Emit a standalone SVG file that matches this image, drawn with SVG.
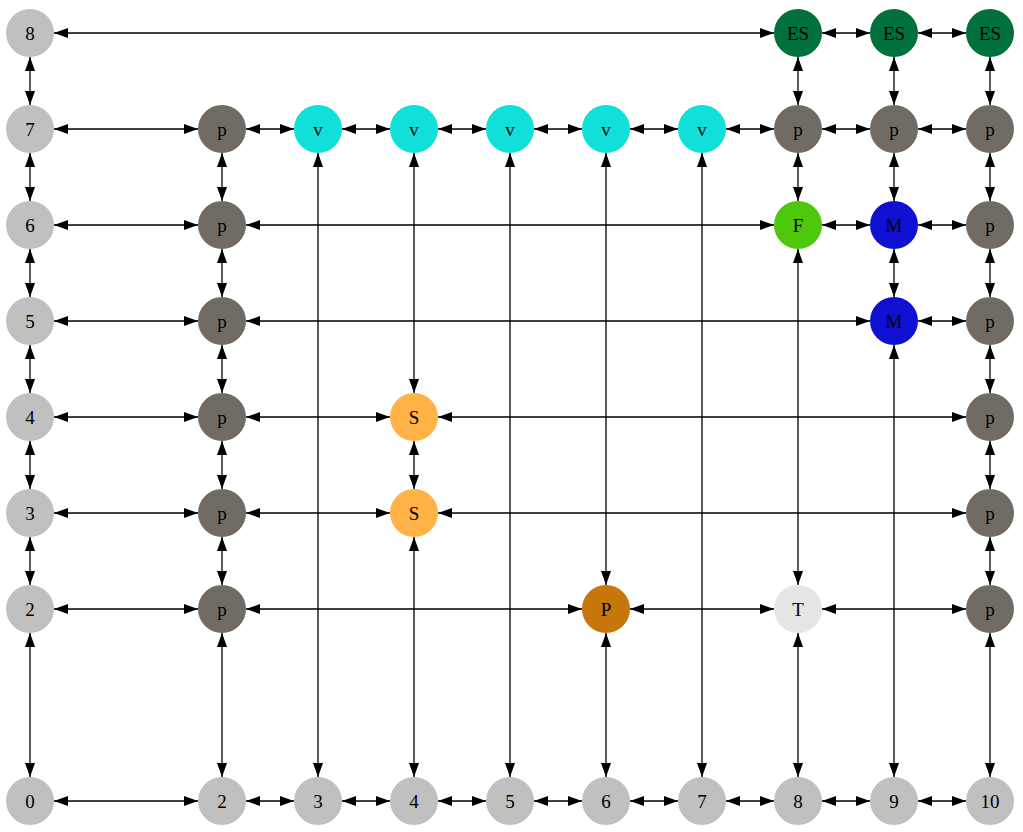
<svg xmlns="http://www.w3.org/2000/svg" width="1023" height="832" viewBox="0 0 1023 832">
<style>
.e{stroke:#000;stroke-width:1.3;fill:none;marker-start:url(#a);marker-end:url(#a)}
text{font-family:"Liberation Serif","Times New Roman",serif;font-size:19px;text-anchor:middle;dominant-baseline:central;fill:#000}
.g{fill:#c0c0c0}.p{fill:#716b66}.v{fill:#10e0d8}.es{fill:#00703c}.f{fill:#4ec80c}.m{fill:#1010d0}.s{fill:#ffb347}.pp{fill:#c8770c}.t{fill:#e5e5e5}
</style>
<defs>
<marker id="a" viewBox="0 0 14 10" refX="14" refY="5" markerWidth="14" markerHeight="10" markerUnits="userSpaceOnUse" orient="auto-start-reverse">
<path d="M0,0L14,5L0,10z" fill="#000"/>
</marker>
</defs>
<rect width="1023" height="832" fill="#fff"/>
<g id="edges">
<path class="e" d="M54,33H774"/><path class="e" d="M822,33H870"/><path class="e" d="M918,33H966"/>
<path class="e" d="M54,129H198"/><path class="e" d="M246,129H294"/><path class="e" d="M342,129H390"/><path class="e" d="M438,129H486"/><path class="e" d="M534,129H582"/><path class="e" d="M630,129H678"/><path class="e" d="M726,129H774"/><path class="e" d="M822,129H870"/><path class="e" d="M918,129H966"/>
<path class="e" d="M54,225H198"/><path class="e" d="M246,225H774"/><path class="e" d="M822,225H870"/><path class="e" d="M918,225H966"/>
<path class="e" d="M54,321H198"/><path class="e" d="M246,321H870"/><path class="e" d="M918,321H966"/>
<path class="e" d="M54,417H198"/><path class="e" d="M246,417H390"/><path class="e" d="M438,417H966"/>
<path class="e" d="M54,513H198"/><path class="e" d="M246,513H390"/><path class="e" d="M438,513H966"/>
<path class="e" d="M54,609H198"/><path class="e" d="M246,609H582"/><path class="e" d="M630,609H774"/><path class="e" d="M822,609H966"/>
<path class="e" d="M54,801H198"/><path class="e" d="M246,801H294"/><path class="e" d="M342,801H390"/><path class="e" d="M438,801H486"/><path class="e" d="M534,801H582"/><path class="e" d="M630,801H678"/><path class="e" d="M726,801H774"/><path class="e" d="M822,801H870"/><path class="e" d="M918,801H966"/>
<path class="e" d="M30,57V105"/><path class="e" d="M30,153V201"/><path class="e" d="M30,249V297"/><path class="e" d="M30,345V393"/><path class="e" d="M30,441V489"/><path class="e" d="M30,537V585"/><path class="e" d="M30,633V777"/>
<path class="e" d="M222,153V201"/><path class="e" d="M222,249V297"/><path class="e" d="M222,345V393"/><path class="e" d="M222,441V489"/><path class="e" d="M222,537V585"/><path class="e" d="M222,633V777"/>
<path class="e" d="M318,153V777"/>
<path class="e" d="M414,153V393"/><path class="e" d="M414,441V489"/><path class="e" d="M414,537V777"/>
<path class="e" d="M510,153V777"/>
<path class="e" d="M606,153V585"/><path class="e" d="M606,633V777"/>
<path class="e" d="M702,153V777"/>
<path class="e" d="M798,57V105"/><path class="e" d="M798,153V201"/><path class="e" d="M798,249V585"/><path class="e" d="M798,633V777"/>
<path class="e" d="M894,57V105"/><path class="e" d="M894,153V201"/><path class="e" d="M894,249V297"/><path class="e" d="M894,345V777"/>
<path class="e" d="M990,57V105"/><path class="e" d="M990,153V201"/><path class="e" d="M990,249V297"/><path class="e" d="M990,345V393"/><path class="e" d="M990,441V489"/><path class="e" d="M990,537V585"/><path class="e" d="M990,633V777"/>
</g>
<g id="n8"><circle class="g" cx="30" cy="33" r="24"/><text x="30" y="33">8</text></g>
<g id="n7"><circle class="g" cx="30" cy="129" r="24"/><text x="30" y="129">7</text></g>
<g id="n6"><circle class="g" cx="30" cy="225" r="24"/><text x="30" y="225">6</text></g>
<g id="n5"><circle class="g" cx="30" cy="321" r="24"/><text x="30" y="321">5</text></g>
<g id="n4"><circle class="g" cx="30" cy="417" r="24"/><text x="30" y="417">4</text></g>
<g id="n3"><circle class="g" cx="30" cy="513" r="24"/><text x="30" y="513">3</text></g>
<g id="n2"><circle class="g" cx="30" cy="609" r="24"/><text x="30" y="609">2</text></g>
<g id="b0"><circle class="g" cx="30" cy="801" r="24"/><text x="30" y="801">0</text></g>
<g id="b2"><circle class="g" cx="222" cy="801" r="24"/><text x="222" y="801">2</text></g>
<g id="b3"><circle class="g" cx="318" cy="801" r="24"/><text x="318" y="801">3</text></g>
<g id="b4"><circle class="g" cx="414" cy="801" r="24"/><text x="414" y="801">4</text></g>
<g id="b5"><circle class="g" cx="510" cy="801" r="24"/><text x="510" y="801">5</text></g>
<g id="b6"><circle class="g" cx="606" cy="801" r="24"/><text x="606" y="801">6</text></g>
<g id="b7"><circle class="g" cx="702" cy="801" r="24"/><text x="702" y="801">7</text></g>
<g id="b8"><circle class="g" cx="798" cy="801" r="24"/><text x="798" y="801">8</text></g>
<g id="b9"><circle class="g" cx="894" cy="801" r="24"/><text x="894" y="801">9</text></g>
<g id="b10"><circle class="g" cx="990" cy="801" r="24"/><text x="990" y="801">10</text></g>
<g id="es1"><circle class="es" cx="798" cy="33" r="24"/><text x="798" y="33">ES</text></g>
<g id="es2"><circle class="es" cx="894" cy="33" r="24"/><text x="894" y="33">ES</text></g>
<g id="es3"><circle class="es" cx="990" cy="33" r="24"/><text x="990" y="33">ES</text></g>
<g id="p7a"><circle class="p" cx="222" cy="129" r="24"/><text x="222" y="129">p</text></g>
<g id="v1"><circle class="v" cx="318" cy="129" r="24"/><text x="318" y="129">v</text></g>
<g id="v2"><circle class="v" cx="414" cy="129" r="24"/><text x="414" y="129">v</text></g>
<g id="v3"><circle class="v" cx="510" cy="129" r="24"/><text x="510" y="129">v</text></g>
<g id="v4"><circle class="v" cx="606" cy="129" r="24"/><text x="606" y="129">v</text></g>
<g id="v5"><circle class="v" cx="702" cy="129" r="24"/><text x="702" y="129">v</text></g>
<g id="p7b"><circle class="p" cx="798" cy="129" r="24"/><text x="798" y="129">p</text></g>
<g id="p7c"><circle class="p" cx="894" cy="129" r="24"/><text x="894" y="129">p</text></g>
<g id="p7d"><circle class="p" cx="990" cy="129" r="24"/><text x="990" y="129">p</text></g>
<g id="p6a"><circle class="p" cx="222" cy="225" r="24"/><text x="222" y="225">p</text></g>
<g id="f"><circle class="f" cx="798" cy="225" r="24"/><text x="798" y="225">F</text></g>
<g id="m1"><circle class="m" cx="894" cy="225" r="24"/><text x="894" y="225">M</text></g>
<g id="p6b"><circle class="p" cx="990" cy="225" r="24"/><text x="990" y="225">p</text></g>
<g id="p5a"><circle class="p" cx="222" cy="321" r="24"/><text x="222" y="321">p</text></g>
<g id="m2"><circle class="m" cx="894" cy="321" r="24"/><text x="894" y="321">M</text></g>
<g id="p5b"><circle class="p" cx="990" cy="321" r="24"/><text x="990" y="321">p</text></g>
<g id="p4a"><circle class="p" cx="222" cy="417" r="24"/><text x="222" y="417">p</text></g>
<g id="s1"><circle class="s" cx="414" cy="417" r="24"/><text x="414" y="417">S</text></g>
<g id="p4b"><circle class="p" cx="990" cy="417" r="24"/><text x="990" y="417">p</text></g>
<g id="p3a"><circle class="p" cx="222" cy="513" r="24"/><text x="222" y="513">p</text></g>
<g id="s2"><circle class="s" cx="414" cy="513" r="24"/><text x="414" y="513">S</text></g>
<g id="p3b"><circle class="p" cx="990" cy="513" r="24"/><text x="990" y="513">p</text></g>
<g id="p2a"><circle class="p" cx="222" cy="609" r="24"/><text x="222" y="609">p</text></g>
<g id="bigp"><circle class="pp" cx="606" cy="609" r="24"/><text x="606" y="609">P</text></g>
<g id="t"><circle class="t" cx="798" cy="609" r="24"/><text x="798" y="609">T</text></g>
<g id="p2b"><circle class="p" cx="990" cy="609" r="24"/><text x="990" y="609">p</text></g>
</svg>
